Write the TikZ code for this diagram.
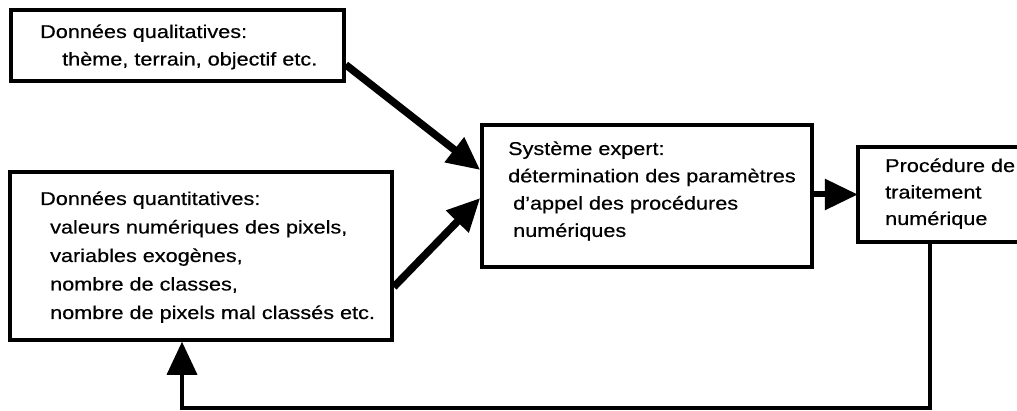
\documentclass[tikz,border=0pt]{standalone}
\usepackage{fontspec}
\setmainfont{Liberation Sans}[FakeStretch=1.17,FakeBold=0.5]
\usetikzlibrary{arrows.meta}
\tikzset{
  box/.style={draw, line width=3.5pt, inner sep=0pt},
  txt/.style={inner sep=0pt, anchor=base west, font=\fontsize{18.5}{27.5}\selectfont},
  bigarrow/.style={line width=7.5pt, -{Triangle[length=33pt,width=30pt]}},
  medarrow/.style={line width=6pt, -{Triangle[length=33pt,width=30pt]}},
  backline/.style={line width=3.5pt, -{Triangle[length=33pt,width=30pt]}}
}
\begin{document}
\begin{tikzpicture}[x=1pt,y=-1pt]
\useasboundingbox (0,0) rectangle (1017,411);

% boxes
\node[box, minimum width=333pt, minimum height=71pt] (q1) at (177.5,45.5) {};
\node[box, minimum width=382pt, minimum height=168pt] (q2) at (201,256) {};
\node[box, minimum width=330pt, minimum height=142pt] (s) at (647,196) {};
\node[inner sep=0pt, minimum width=162pt, minimum height=95pt] (p) at (939,194.5) {};
\draw[line width=3.5pt] (p.north east) -- (p.north west) -- (p.south west) -- (p.south east);

% texts
\node[txt] (t1) at (40,38) {\vtop{\hbox{Données qualitatives:}\hbox{\kern22pt thème, terrain, objectif etc.}}};
\node[txt] (t2) at (40,205) {\vtop{\baselineskip=28.5pt
  \hbox{Données quantitatives:}
  \hbox{\kern10pt valeurs numériques des pixels,}
  \hbox{\kern10pt variables exogènes,}
  \hbox{\kern10pt nombre de classes,}
  \hbox{\kern10pt nombre de pixels mal classés etc.}}};
\node[txt] (t3) at (508,155) {\vtop{\baselineskip=27.3pt
  \hbox{Système expert:}
  \hbox{détermination des paramètres}
  \hbox{\kern5pt d'appel des procédures}
  \hbox{\kern5pt numériques}}};
\node[txt] (t4) at (885,172) {\vtop{\baselineskip=26.5pt
  \hbox{Procédure de}
  \hbox{traitement}
  \hbox{numérique}}};

% arrows
\draw[bigarrow] ([yshift=18pt]q1.south east) -- ([yshift=26pt]s.west);
\draw[bigarrow] ([yshift=-31pt]q2.east) -- ([yshift=-2pt]s.west);
\draw[medarrow] (s.east |- p.west) -- (p.west);
\coordinate (fbcorner) at (182,408);
\draw[backline] ([xshift=72pt]p.south west) |- (fbcorner) -- (fbcorner |- q2.south);
\end{tikzpicture}
\end{document}
